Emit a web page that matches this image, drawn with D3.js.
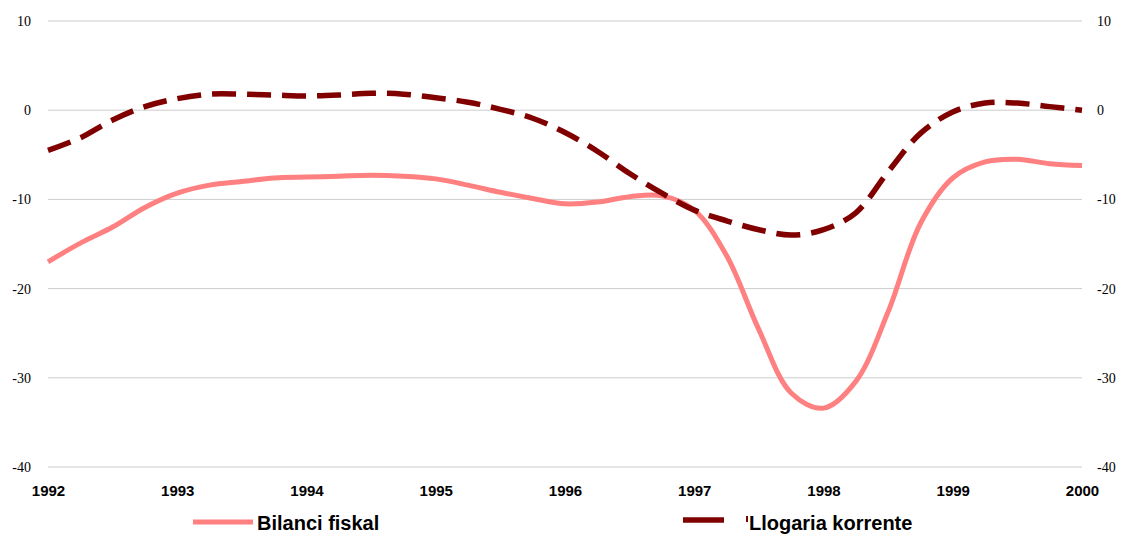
<!DOCTYPE html>
<html>
<head>
<meta charset="utf-8">
<script src="https://cdn.jsdelivr.net/npm/d3@7"></script>
<style>
  body { margin: 0; background: #fff; }
  svg { display: block; }
</style>
</head>
<body>
<div id="chart"></div>
<script>
// Quarterly points, 1992 to 2000
const quarters = d3.range(0, 33).map(i => 1992 + i / 4);

const fiscal = [
  -17.0, -14.9, -13.1, -10.9, -9.3, -8.4, -8.0, -7.6,
  -7.5, -7.4, -7.3, -7.4, -7.7, -8.4, -9.2, -9.9,
  -10.5, -10.3, -9.7, -9.6, -11.2, -16.3, -24.6, -31.7,
  -33.4, -30.4, -22.6, -12.7, -7.6, -5.8, -5.5, -6.0,
  -6.2
];

const currentAccount = [
  -4.5, -3.1, -1.1, 0.4, 1.3, 1.8, 1.8, 1.7,
  1.6, 1.7, 1.9, 1.8, 1.4, 0.9, 0.1, -0.9,
  -2.5, -4.6, -7.1, -9.3, -11.2, -12.4, -13.4, -14.0,
  -13.4, -11.5, -6.9, -2.6, -0.2, 0.8, 0.8, 0.4,
  0.0
];

const yTicks = [10, 0, -10, -20, -30, -40];
const xTicks = [1992, 1993, 1994, 1995, 1996, 1997, 1998, 1999, 2000];
const seriesNames = ["Bilanci fiskal", "Llogaria korrente"];

const W = 1123, H = 536;
const margin = { left: 48, right: 1082, top: 21, bottom: 467 };

const svg = d3.select("#chart").append("svg")
  .attr("width", W)
  .attr("height", H);

const x = d3.scaleLinear().domain([1992, 2000]).range([margin.left, margin.right]);
const y = d3.scaleLinear().domain([-40, 10]).range([margin.bottom, margin.top]);

// gridlines
svg.append("g")
  .selectAll("line")
  .data(yTicks)
  .enter()
  .append("line")
  .attr("x1", margin.left)
  .attr("x2", margin.right)
  .attr("y1", d => y(d))
  .attr("y2", d => y(d))
  .attr("stroke", "#cccccc")
  .attr("stroke-width", 1);

// plain hyphen for negatives, like the original
const fmt = d => String(d);

// left y axis
const yLeft = svg.append("g")
  .attr("transform", `translate(${margin.left - 17}, 0)`)
  .call(d3.axisLeft(y).tickValues(yTicks).tickFormat(fmt).tickSize(0).tickPadding(0));
yLeft.select(".domain").remove();
yLeft.selectAll("text")
  .style("font-family", "'Liberation Serif', 'Times New Roman', serif")
  .style("font-size", "14px")
  .attr("fill", "#000");

// right y axis
const yRight = svg.append("g")
  .attr("transform", `translate(${margin.right + 15}, 0)`)
  .call(d3.axisRight(y).tickValues(yTicks).tickFormat(fmt).tickSize(0).tickPadding(0));
yRight.select(".domain").remove();
yRight.selectAll("text")
  .style("font-family", "'Liberation Serif', 'Times New Roman', serif")
  .style("font-size", "14px")
  .attr("fill", "#000");

// x axis labels
const xAxis = svg.append("g")
  .attr("transform", `translate(0, ${margin.bottom + 18})`)
  .call(d3.axisBottom(x).tickValues(xTicks).tickFormat(d3.format("d")).tickSize(0).tickPadding(0));
xAxis.select(".domain").remove();
xAxis.selectAll("text")
  .style("font-family", "'Liberation Sans', Arial, sans-serif")
  .style("font-size", "15px")
  .style("font-weight", "bold")
  .attr("fill", "#000");

// lines
const line = d3.line()
  .x((d, i) => x(quarters[i]))
  .y(d => y(d))
  .curve(d3.curveCatmullRom.alpha(0.5));

svg.append("path")
  .datum(fiscal)
  .attr("fill", "none")
  .attr("stroke", "#ff8080")
  .attr("stroke-width", 5)
  .attr("stroke-linejoin", "round")
  .attr("d", line);

svg.append("path")
  .datum(currentAccount)
  .attr("fill", "none")
  .attr("stroke", "#800000")
  .attr("stroke-width", 5.5)
  .attr("stroke-dasharray", "24,11")
  .attr("d", line);

// legend
const legend = svg.append("g")
  .style("font-family", "'Liberation Sans', Arial, sans-serif")
  .style("font-size", "20px")
  .style("font-weight", "bold");

legend.append("line")
  .attr("x1", 193).attr("x2", 253)
  .attr("y1", 522).attr("y2", 522)
  .attr("stroke", "#ff8080")
  .attr("stroke-width", 5);

legend.append("text")
  .attr("x", 257)
  .attr("y", 530)
  .text(seriesNames[0]);

legend.append("line")
  .attr("x1", 683).attr("x2", 724)
  .attr("y1", 520).attr("y2", 520)
  .attr("stroke", "#800000")
  .attr("stroke-width", 5.5);

legend.append("rect")
  .attr("x", 746).attr("y", 516)
  .attr("width", 2).attr("height", 6)
  .attr("fill", "#800000");

legend.append("text")
  .attr("x", 749)
  .attr("y", 530)
  .text(seriesNames[1]);
</script>
</body>
</html>
